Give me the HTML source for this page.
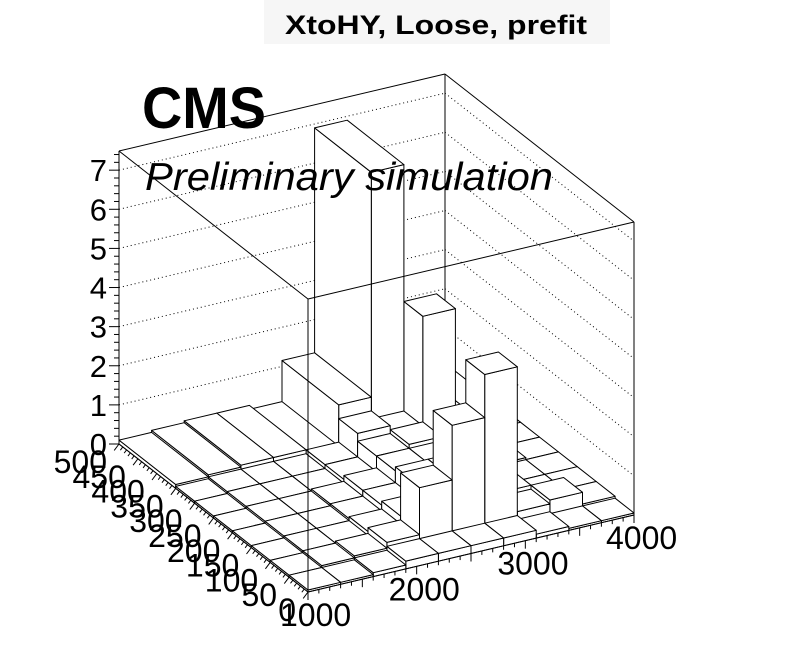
<!DOCTYPE html>
<html><head><meta charset="utf-8"><style>
html,body{margin:0;padding:0;background:#fff;}
svg{display:block;font-family:"Liberation Sans",sans-serif;}
</style></head><body>
<svg id="chart" width="796" height="672" viewBox="0 0 796 672" xmlns="http://www.w3.org/2000/svg">
<rect x="0" y="0" width="796" height="672" fill="#fff"/>
<rect x="264" y="0" width="346" height="44" fill="#f6f6f6"/>
<text x="436" y="34" text-anchor="middle" font-size="27" font-weight="bold" textLength="302" lengthAdjust="spacingAndGlyphs">XtoHY, Loose, prefit</text>
<g id="walls"></g>
<g id="bars"></g>
<g id="frame"></g>
<g id="axes"></g>
<text x="142" y="128" font-size="58" font-weight="bold" textLength="124" lengthAdjust="spacingAndGlyphs">CMS</text>
<text x="145" y="190" font-size="39" font-style="italic" textLength="408" lengthAdjust="spacingAndGlyphs">Preliminary simulation</text>
</svg>
<script>
// data
const xEdges = [1000,1300,1600,1900,2200,2500,2800,3100,3400,3700,4000];
const yEdges = [0,50,100,150,200,250,300,350,500];
const zMax = 7.49;
const zTicks = [0,1,2,3,4,5,6,7];
const xTicks = [1000,2000,3000,4000];
const yTicks = [0,50,100,150,200,250,300,350,400,450,500];
// values[xbin][ybin]
const row1000 = [0.05,0.05,0.05,0.05,0.05,0.05,0.05,0.1];
const row1300 = [0.05,0.1,0.1,0.1,0.1,0.1,0.1,0.15];
const row1600 = [0.1,0.15,0.1,0.1,0.1,0.1,0.1,0.2];
const row1900 = [0.2,0.3,0.2,0.15,0.15,0.1,0.1,0.2];
const row2200 = [0.2,1.5,0.4,0.3,0.3,0.2,0.2,0.1];
const row2500 = [0.2,2.9,0.8,0.7,0.6,0.6,0.8,1.15];
const row2800 = [0.2,4.0,1.2,0.7,0.6,0.7,0.6,6.9];
const row3100 = [0.1,0.3,0.4,0.3,0.3,0.3,3.4,1.9];
const row3400 = [0.05,0.4,0.1,0.1,0.15,0.1,0.1,0.2];
const row3700 = [0.05,0.1,0.1,0.1,0.1,0.1,0.1,0.1];
const values = [row1000,row1300,row1600,row1900,row2200,row2500,row2800,row3100,row3400,row3700];

const NS="http://www.w3.org/2000/svg";
const O={x:308,y:592};
const EX={x:(634-308)/3000,y:(515-592)/3000};
const EY={x:(119-308)/500,y:(444-592)/500};
const ZS=(444-151)/zMax;
function P(x,y,z){return [O.x+(x-1000)*EX.x+y*EY.x, O.y+(x-1000)*EX.y+y*EY.y-z*ZS];}
function mk(tag,attrs,parent){const e=document.createElementNS(NS,tag);for(const k in attrs)e.setAttribute(k,attrs[k]);parent.appendChild(e);return e;}
function line(p,q,parent,extra){return mk('line',Object.assign({x1:p[0],y1:p[1],x2:q[0],y2:q[1],stroke:'#000','stroke-width':1},extra||{}),parent);}
const walls=document.getElementById('walls'),bars=document.getElementById('bars'),frame=document.getElementById('frame'),axes=document.getElementById('axes');

zTicks.forEach(z=>{
  if(z===0)return;
  const a=P(1000,500,z),b=P(4000,500,z),c=P(4000,0,z);
  const l1=line(a,b,walls,{'stroke-dasharray':'1,3'});
  
  
  const l2=line(b,c,walls,{'stroke-dasharray':'1,3'});
  
  
});
[[P(1000,500,0),P(1000,500,zMax)],[P(4000,500,0),P(4000,500,zMax)],[P(4000,0,0),P(4000,0,zMax)],
 [P(1000,500,zMax),P(4000,500,zMax)],[P(4000,500,zMax),P(4000,0,zMax)],
 [P(1000,500,0),P(4000,500,0)],[P(4000,500,0),P(4000,0,0)]].forEach(s=>{
  const l=line(s[0],s[1],walls);
  
  
});

const order=[];
for(let i=0;i<values.length;i++)for(let j=0;j<values[i].length;j++)order.push([i,j]);
order.sort((a,b)=>(b[0]+b[1])-(a[0]+a[1])||b[0]-a[0]);
order.forEach(([i,j])=>{
  const h=values[i][j]; if(!(h>0))return;
  const x0=xEdges[i],x1=xEdges[i+1],y0=yEdges[j],y1=yEdges[j+1];
  const g=mk('g',{},bars);
  
  
  const faces=[
    [P(x0,y0,0),P(x1,y0,0),P(x1,y0,h),P(x0,y0,h)],
    [P(x0,y0,0),P(x0,y1,0),P(x0,y1,h),P(x0,y0,h)],
    [P(x0,y0,h),P(x1,y0,h),P(x1,y1,h),P(x0,y1,h)]
  ];
  faces.forEach(f=>{
    const poly=mk('polygon',{points:f.map(p=>p[0].toFixed(1)+','+p[1].toFixed(1)).join(' '),fill:'#fff',stroke:'#000','stroke-width':1,'stroke-linejoin':'round'},g);
    
    
  });
});

[[P(1000,0,0),P(1000,0,zMax)],[P(1000,500,zMax),P(1000,0,zMax)],[P(1000,0,zMax),P(4000,0,zMax)],
 [P(1000,500,0),P(1000,0,0)],[P(1000,0,0),P(4000,0,0)]].forEach(s=>{
  const l=line(s[0],s[1],frame);
  
  
});

for(let k=0;k<=40;k++){
  const z=k*0.2; if(z>zMax)break;
  const p=P(1000,500,z);
  const major=(k%5===0);
  const t=line([p[0],p[1]],[p[0]-(major?10:5),p[1]],axes);
  
  
}
zTicks.forEach(z=>{
  const p=P(1000,500,z);
  const t=mk('text',{x:p[0]-12,y:p[1]+11,'text-anchor':'end','font-size':31},axes);
  t.textContent=String(z);
  
  
});
for(let v=1000;v<=4000;v+=100){
  const p=P(v,0,0);const major=(v%500===0);
  const t=line(p,[p[0],p[1]+(major?8:4)],axes);
  
  
}
xTicks.forEach(v=>{
  const p=P(v,0,0);
  const t=mk('text',{x:p[0]-28,y:p[1]+34,'font-size':32},axes);
  t.textContent=String(v);
  
  
});
for(let v=0;v<=500;v+=10){
  const p=P(1000,v,0);const major=(v%50===0);
  const L=major?8:4;
  const t=line(p,[p[0]-L*0.6,p[1]+L*0.8],axes);
  
  
}
yTicks.forEach(v=>{
  const p=P(1000,v,0);
  const t=mk('text',{x:p[0]-12,y:p[1]+29,'text-anchor':'end','font-size':32},axes);
  t.textContent=String(v);
  
  
});
</script>
</body></html>
